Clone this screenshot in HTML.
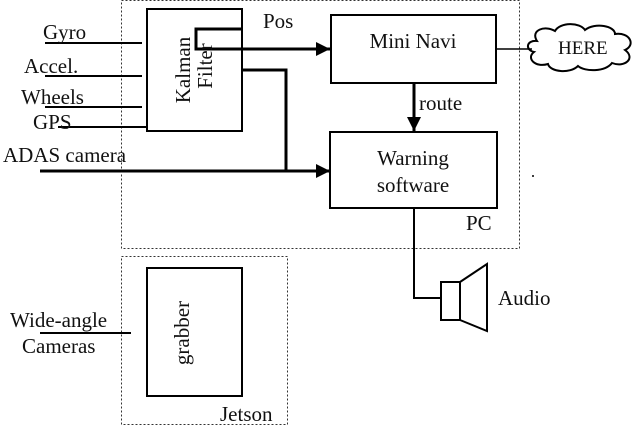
<!DOCTYPE html>
<html><head><style>body{margin:0;background:#fff}svg{display:block}text{font-family:"Liberation Serif",serif;fill:#111}</style></head><body>
<svg width="640" height="427" viewBox="0 0 640 427" xmlns="http://www.w3.org/2000/svg">
<defs><marker id="b" markerWidth="14" markerHeight="14" refX="14" refY="7" orient="auto" markerUnits="userSpaceOnUse" viewBox="0 0 14 14"><path d="M0,0 L14,7 L0,14z" fill="#000"/></marker></defs>
<g fill="none" stroke="#333" stroke-width="1" stroke-dasharray="2,2">
<rect x="121.5" y="0.5" width="398" height="248"/>
<rect x="121.5" y="256.5" width="166" height="168"/>
</g>
<g fill="none" stroke="#000" stroke-width="2">
<rect x="147" y="9" width="95" height="122"/>
<rect x="331" y="15" width="165" height="68"/>
<rect x="330" y="132" width="167" height="76"/>
<rect x="147" y="268" width="95" height="128"/>
<path d="M242,29 H196 V49 H330" stroke-width="3" marker-end="url(#b)"/>
<path d="M242,70 H286 V171" stroke-width="3"/>
<path d="M40,171 H330" stroke-width="3" marker-end="url(#b)"/>
<path d="M414,83 V131" stroke-width="3" marker-end="url(#b)"/>
<path d="M45,43 H142 M45,76 H142 M45,107 H142 M58,127 H147" />
<path d="M40,333 H131"/>
<path d="M414,208 V298 H441"/>
<rect x="441" y="282" width="19" height="38"/>
<path d="M460,282 L487,264 V331 L460,320"/>
</g>
<path d="M496,49 H532" stroke="#000" stroke-width="1.5"/>
<path d="M537,41 C530,30 545,25 555,31 C560,22 580,22 585,30 C595,22 615,26 615,34 C630,32 636,45 625,50 C636,58 625,68 612,63 C605,72 585,72 578,66 C570,74 550,72 548,64 C535,68 526,58 534,52 C525,50 526,40 537,41 Z" fill="none" stroke="#000" stroke-width="2"/>
<g font-size="21">
<text x="43" y="39">Gyro</text>
<text x="24" y="73">Accel.</text>
<text x="21" y="104">Wheels</text>
<text x="33" y="129">GPS</text>
<text x="3" y="162">ADAS camera</text>
<text x="263" y="28">Pos</text>
<text x="413" y="48" text-anchor="middle">Mini Navi</text>
<text x="419" y="110">route</text>
<text x="413" y="165" text-anchor="middle">Warning</text>
<text x="413" y="192" text-anchor="middle">software</text>
<text x="466" y="230">PC</text>
<text x="558" y="54" font-size="19">HERE</text>
<text x="498" y="305">Audio</text>
<text x="10" y="327">Wide-angle</text>
<text x="22" y="353">Cameras</text>
<text x="220" y="421">Jetson</text>
<text transform="translate(190,70) rotate(-90)" text-anchor="middle">Kalman</text>
<text transform="translate(212,66) rotate(-90)" text-anchor="middle">Filter</text>
<text transform="translate(189,333) rotate(-90)" text-anchor="middle">grabber</text>
</g>
<circle cx="533" cy="176" r="1" fill="#000"/>
</svg>
</body></html>
